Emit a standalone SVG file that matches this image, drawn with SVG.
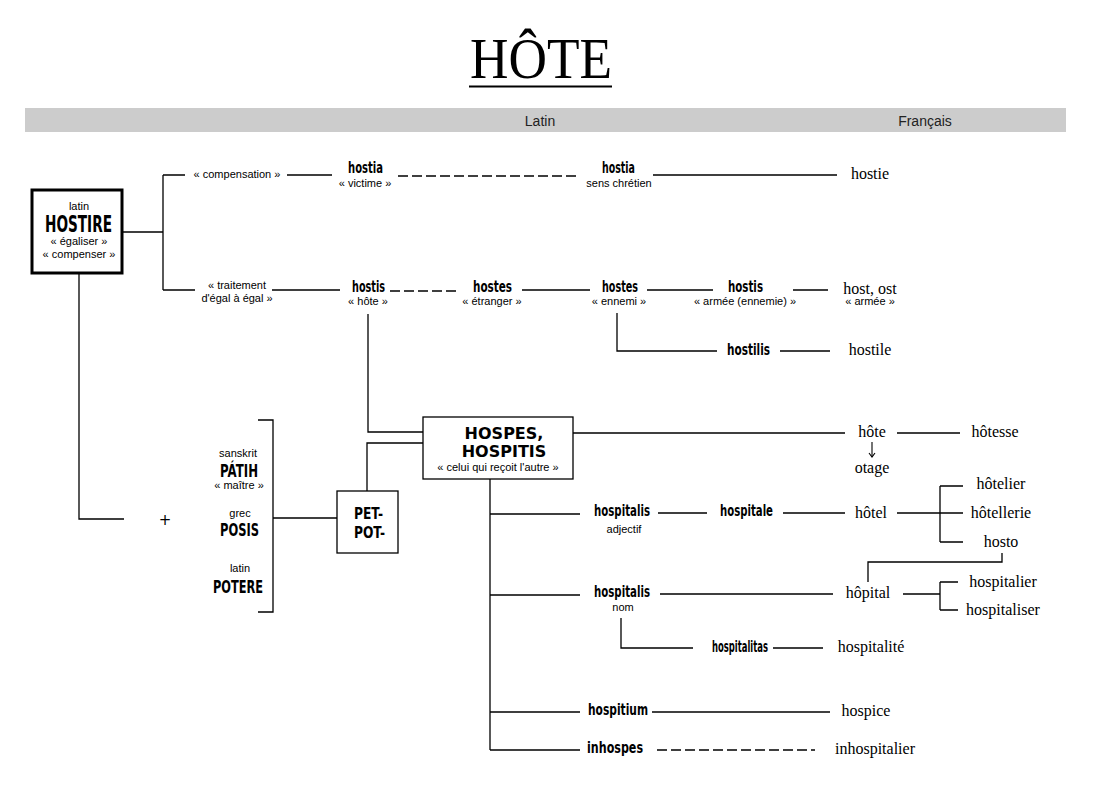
<svg xmlns="http://www.w3.org/2000/svg" width="1098" height="800" viewBox="0 0 1098 800">
<style>
.ln{stroke:#000;stroke-width:1.3;fill:none}
.ds{stroke:#000;stroke-width:1.3;fill:none;stroke-dasharray:10,4}
.box{fill:#fff;stroke:#000;stroke-width:1.3}
.bx{font-family:"DejaVu Sans",sans-serif;font-weight:bold;text-anchor:middle;fill:#000}
.lt{font-family:"DejaVu Sans",sans-serif;font-weight:bold;font-size:15px;text-anchor:middle;fill:#000}
.sm{font-family:"Liberation Sans",Arial,sans-serif;font-size:11px;text-anchor:middle;fill:#000}
.fr{font-family:"Liberation Serif","Times New Roman",serif;font-size:16px;text-anchor:middle;fill:#000}
.hd{font-family:"Liberation Sans",Arial,sans-serif;font-size:14px;text-anchor:middle;fill:#222}
</style>
<defs>
<marker id="ah" markerWidth="8" markerHeight="8" refX="7" refY="4" orient="auto" markerUnits="userSpaceOnUse" viewBox="0 0 8 8">
<path d="M3 1L7 4L3 7" fill="none" stroke="#000" stroke-width="1.1"/>
</marker>
</defs>
<rect width="1098" height="800" fill="#fff"/>
<g id="title">
<text x="541" y="78" font-family="'Liberation Serif','Times New Roman',serif" font-size="57" text-anchor="middle" textLength="142" lengthAdjust="spacingAndGlyphs">HÔTE</text>
<line x1="469" y1="86.5" x2="612" y2="86.5" stroke="#000" stroke-width="2"/>
</g>
<g id="header">
<rect x="25" y="108" width="1041" height="24" fill="#cccccc"/>
<text class="hd" x="540" y="126">Latin</text>
<text class="hd" x="925" y="126">Français</text>
</g>
<g id="connectors">
<path class="ln" d="M122 232H163M163 175V290M163 175H185M287 175H332M653 175H837M163 290H195M272 290H340M522 290H590M647 290H713M793 290H828"/>
<path class="ds" d="M398 176H580M390 291H456M657 750H815"/>
<path class="ln" d="M617 313V351H717M780 351H830"/>
<path class="ln" d="M368 314V432H423M423 443H367V491"/>
<path class="ln" d="M79 273V519H124"/>
<path class="ln" d="M258 420H273V612H258M273 518H337"/>
<path class="ln" d="M573 433H845M897 433H960"/>
<line x1="872" y1="442" x2="872" y2="457" stroke="#000" stroke-width="1.1" marker-end="url(#ah)"/>
<path class="ln" d="M490 479V750M490 514H580M490 595H580M490 712H580M490 750H580"/>
<path class="ln" d="M658 513H707M783 513H845M897 513H940M940 486V542M940 486H963M940 513H963M940 542H963"/>
<path class="ln" d="M1002 553V562H868V582"/>
<path class="ln" d="M660 594H833M903 594H940M940 582V610M940 582H958M940 610H958"/>
<path class="ln" d="M621 618V648H693M773 648H823"/>
<path class="ln" d="M652 712H830"/>
</g>
<g id="hostire">
<rect x="32" y="190" width="90" height="83" fill="#fff" stroke="#000" stroke-width="3"/>
<text class="sm" x="79" y="210">latin</text>
<text class="bx" x="78.5" y="232" font-size="23" textLength="67" lengthAdjust="spacingAndGlyphs">HOSTIRE</text>
<text class="sm" x="79" y="245">« égaliser »</text>
<text class="sm" x="79" y="258">« compenser »</text>
</g>
<g id="compensation"><text class="sm" x="237" y="178">« compensation »</text></g>
<g id="hostia1"><text class="lt" x="365.5" y="173" textLength="35" lengthAdjust="spacingAndGlyphs">hostia</text><text class="sm" x="365" y="187">« victime »</text></g>
<g id="hostia2"><text class="lt" x="618.5" y="173" textLength="33" lengthAdjust="spacingAndGlyphs">hostia</text><text class="sm" x="619" y="187">sens chrétien</text></g>
<g id="hostie"><text class="fr" x="870" y="179">hostie</text></g>
<g id="traitement"><text class="sm" x="237" y="289">« traitement</text><text class="sm" x="237" y="302">d'égal à égal »</text></g>
<g id="hostis1"><text class="lt" x="368.5" y="292" textLength="33" lengthAdjust="spacingAndGlyphs">hostis</text><text class="sm" x="368" y="305">« hôte »</text></g>
<g id="hostes1"><text class="lt" x="492.5" y="292" textLength="39" lengthAdjust="spacingAndGlyphs">hostes</text><text class="sm" x="492" y="305">« étranger »</text></g>
<g id="hostes2"><text class="lt" x="620" y="292" textLength="36" lengthAdjust="spacingAndGlyphs">hostes</text><text class="sm" x="619" y="305">« ennemi »</text></g>
<g id="hostis2"><text class="lt" x="745.5" y="292" textLength="35" lengthAdjust="spacingAndGlyphs">hostis</text><text class="sm" x="745" y="305">« armée (ennemie) »</text></g>
<g id="host"><text class="fr" x="870" y="294">host, ost</text><text class="sm" x="870" y="305">«  armée »</text></g>
<g id="hostilis"><text class="lt" x="748.5" y="355" textLength="43" lengthAdjust="spacingAndGlyphs">hostilis</text></g>
<g id="hostile"><text class="fr" x="870" y="355">hostile</text></g>
<g id="hospes">
<rect class="box" x="423" y="417" width="150" height="62"/>
<text class="bx" x="504" y="439" font-size="16">HOSPES,</text>
<text class="bx" x="504" y="457" font-size="16">HOSPITIS</text>
<text class="sm" x="498" y="471" font-size="11.5">« celui qui reçoit  l'autre »</text>
</g>
<g id="petpot">
<rect class="box" x="337" y="491" width="61" height="62"/>
<text class="bx" x="368.5" y="519" font-size="15" textLength="29" lengthAdjust="spacingAndGlyphs">PET-</text>
<text class="bx" x="369.5" y="538" font-size="15" textLength="31" lengthAdjust="spacingAndGlyphs">POT-</text>
</g>
<g id="roots">
<text class="sm" x="238" y="457">sanskrit</text>
<text class="bx" x="239" y="477" font-size="18" textLength="38" lengthAdjust="spacingAndGlyphs">PÁTIH</text>
<text class="sm" x="239" y="489">« maître »</text>
<text class="sm" x="240" y="517">grec</text>
<text class="bx" x="239.5" y="536" font-size="18" textLength="39" lengthAdjust="spacingAndGlyphs">POSIS</text>
<text class="sm" x="240" y="572">latin</text>
<text class="bx" x="238" y="593" font-size="18" textLength="50" lengthAdjust="spacingAndGlyphs">POTERE</text>
</g>
<g id="plus"><text x="165" y="525" font-family="'DejaVu Sans',sans-serif" font-size="15" text-anchor="middle">+</text></g>
<g id="hote"><text class="fr" x="872" y="437">hôte</text></g>
<g id="otage"><text class="fr" x="872" y="473">otage</text></g>
<g id="hotesse"><text class="fr" x="995" y="437">hôtesse</text></g>
<g id="hospitalis1"><text class="lt" x="622" y="516" textLength="56" lengthAdjust="spacingAndGlyphs">hospitalis</text><text class="sm" x="624" y="533">adjectif</text></g>
<g id="hospitale"><text class="lt" x="746.5" y="516" textLength="53" lengthAdjust="spacingAndGlyphs">hospitale</text></g>
<g id="hotel"><text class="fr" x="871" y="518">hôtel</text></g>
<g id="hotelier"><text class="fr" x="1001" y="489">hôtelier</text></g>
<g id="hotellerie"><text class="fr" x="1001" y="518">hôtellerie</text></g>
<g id="hosto"><text class="fr" x="1001" y="547">hosto</text></g>
<g id="hospitalis2"><text class="lt" x="622" y="597" textLength="56" lengthAdjust="spacingAndGlyphs">hospitalis</text><text class="sm" x="623" y="611">nom</text></g>
<g id="hopital"><text class="fr" x="868" y="598">hôpital</text></g>
<g id="hospitalier"><text class="fr" x="1003" y="587">hospitalier</text></g>
<g id="hospitaliser"><text class="fr" x="1003" y="615">hospitaliser</text></g>
<g id="hospitalitas"><text class="lt" x="740" y="652" textLength="56" lengthAdjust="spacingAndGlyphs">hospitalitas</text></g>
<g id="hospitalite"><text class="fr" x="871" y="652">hospitalité</text></g>
<g id="hospitium"><text class="lt" x="618" y="715" textLength="60" lengthAdjust="spacingAndGlyphs">hospitium</text></g>
<g id="hospice"><text class="fr" x="866" y="716">hospice</text></g>
<g id="inhospes"><text class="lt" x="615" y="753" textLength="56" lengthAdjust="spacingAndGlyphs">inhospes</text></g>
<g id="inhospitalier"><text class="fr" x="875" y="754">inhospitalier</text></g>
</svg>
